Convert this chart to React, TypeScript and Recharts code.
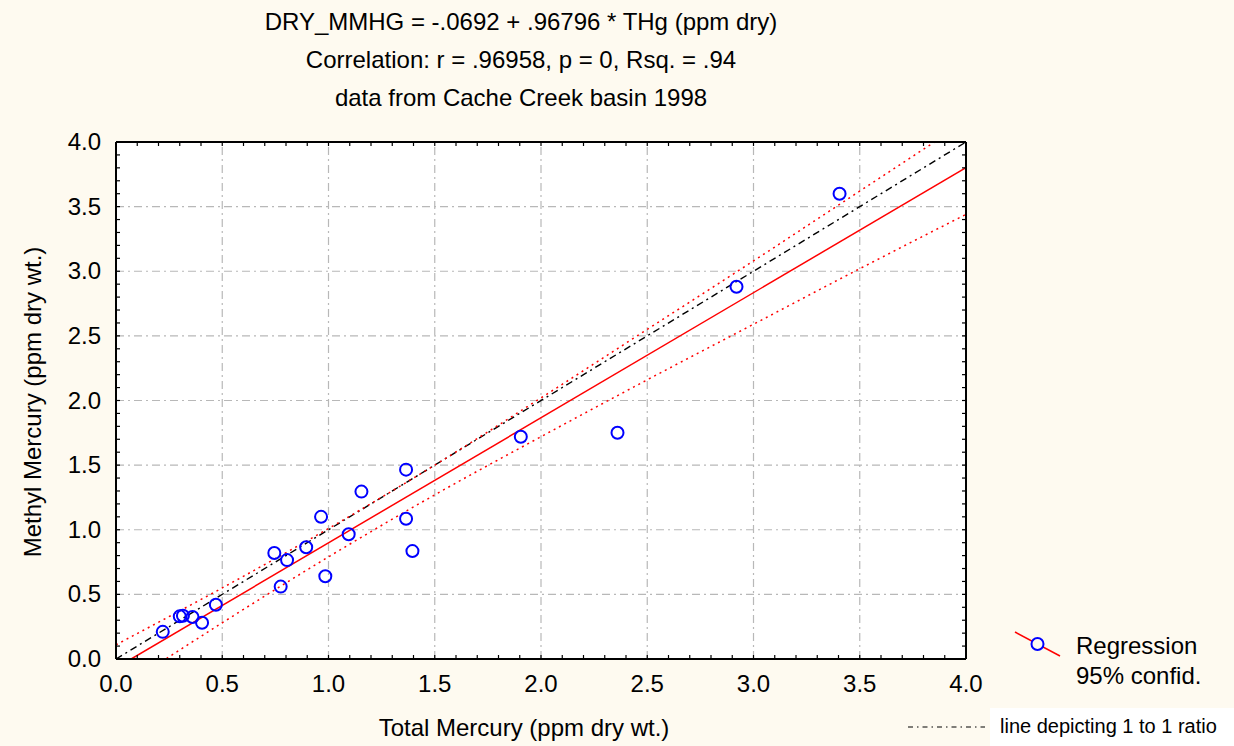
import { ComposedChart, XAxis, YAxis, Scatter, Line, ReferenceLine } from 'recharts';

// measured points: total mercury (x) vs methyl mercury (y), ppm dry wt.
const thg = [0.22, 0.3, 0.315, 0.36, 0.405, 0.47, 0.745, 0.775, 0.805, 0.895, 0.965, 0.985, 1.095, 1.155, 1.365, 1.365, 1.395, 1.905, 2.36, 2.92, 3.405];
const mmhg = [0.21, 0.33, 0.335, 0.325, 0.28, 0.42, 0.82, 0.56, 0.765, 0.865, 1.1, 0.64, 0.965, 1.295, 1.465, 1.085, 0.835, 1.72, 1.75, 2.88, 3.6];

// regression line end points and 95% confidence band
const regX = [0.0715, 4.0];
const regY = [0.0, 3.802];
const bandX = [0, 0.5, 1.0, 1.5, 2.0, 2.5, 3.0, 3.5, 4.0];
const bandUpper = [0.11, 0.55, 1.01, 1.5, 2.02, 2.55, 3.08, 3.62, 4.16];
const bandLower = [-0.25, 0.28, 0.79, 1.27, 1.72, 2.16, 2.59, 3.02, 3.44];
const oneToOneX = [0, 4];
const oneToOneY = [0, 4];

const majorLabels = ['0.0', '0.5', '1.0', '1.5', '2.0', '2.5', '3.0', '3.5', '4.0'];
const gridValues = [0.5, 1.0, 1.5, 2.0, 2.5, 3.0, 3.5];

const points = thg.map((x, i) => ({ x, y: mmhg[i] }));
const regData = regX.map((x, i) => ({ x, y: regY[i] }));
const upperData = bandX.map((x, i) => ({ x, y: bandUpper[i] }));
const lowerData = bandX.map((x, i) => ({ x, y: bandLower[i] }));
const diagData = oneToOneX.map((x, i) => ({ x, y: oneToOneY[i] }));

// minor ticks every 0.1
const ticks = Array.from({ length: 41 }, (_, i) => i / 10);

const FONT = '"Liberation Sans", Arial, sans-serif';
const BG = '#fefaf0';
const TL = 4;

function label(v: number) {
  const i = Math.round(v * 10);
  return i % 5 === 0 ? majorLabels[i / 5] : null;
}

function BottomTick(p: any) {
  const { x, payload } = p;
  const t = label(payload.value);
  return (
    <g>
      <line x1={x} y1={659} x2={x} y2={659 - TL} stroke="#000" strokeWidth={1.2} />
      {t && <text x={x} y={659 + 33} textAnchor="middle" fontSize={24} fontFamily={FONT} fill="#000">{t}</text>}
    </g>
  );
}
function TopTick(p: any) {
  const { x } = p;
  return <line x1={x} y1={142} x2={x} y2={142 + TL} stroke="#000" strokeWidth={1.2} />;
}
function LeftTick(p: any) {
  const { y, payload } = p;
  const t = label(payload.value);
  return (
    <g>
      <line x1={116} y1={y} x2={116 + TL} y2={y} stroke="#000" strokeWidth={1.2} />
      {t && <text x={101} y={y + 8} textAnchor="end" fontSize={24} fontFamily={FONT} fill="#000">{t}</text>}
    </g>
  );
}
function RightTick(p: any) {
  const { y } = p;
  return <line x1={966} y1={y} x2={966 - TL} y2={y} stroke="#000" strokeWidth={1.2} />;
}

const Dot = (p: any) => <circle cx={p.cx} cy={p.cy} r={6} fill="none" stroke="#0000ff" strokeWidth={2} />;

const txt: React.CSSProperties = { position: 'absolute', fontFamily: FONT, color: '#000', whiteSpace: 'nowrap' };
const axisLine = { stroke: '#000', strokeWidth: 2 };

export default function App() {
  return (
    <div style={{ position: 'absolute', left: 0, top: 0, width: 1234, height: 746, background: BG, overflow: 'hidden' }}>
      <div style={{ position: 'absolute', left: 116, top: 142, width: 850, height: 517, background: '#fff' }} />
      <div style={{ position: 'absolute', left: 0, top: 0 }}>
        <ComposedChart width={1234} height={746} margin={{ top: 141, right: 267, bottom: 86, left: 115 }}>
          <XAxis xAxisId="b" type="number" dataKey="x" domain={[0, 4]} ticks={ticks} interval={0} allowDataOverflow
            height={1} tickSize={0} tickMargin={0} tickLine={false} tick={<BottomTick />} axisLine={axisLine} />
          <XAxis xAxisId="t" orientation="top" type="number" dataKey="x" domain={[0, 4]} ticks={ticks} interval={0} allowDataOverflow
            height={1} tickSize={0} tickMargin={0} tickLine={false} tick={<TopTick />} axisLine={axisLine} />
          <YAxis yAxisId="l" type="number" dataKey="y" domain={[0, 4]} ticks={ticks} interval={0} allowDataOverflow
            width={1} tickSize={0} tickMargin={0} tickLine={false} tick={<LeftTick />} axisLine={axisLine} />
          <YAxis yAxisId="r" orientation="right" type="number" dataKey="y" domain={[0, 4]} ticks={ticks} interval={0} allowDataOverflow
            width={1} tickSize={0} tickMargin={0} tickLine={false} tick={<RightTick />} axisLine={axisLine} />
          {gridValues.map((v) => (
            <ReferenceLine key={'v' + v} xAxisId="b" yAxisId="l" x={v} stroke="#b8b8b8" strokeWidth={1.2} strokeDasharray="8 4 2 4" />
          ))}
          {gridValues.map((v) => (
            <ReferenceLine key={'h' + v} xAxisId="b" yAxisId="l" y={v} stroke="#b8b8b8" strokeWidth={1.2} strokeDasharray="8 4 2 4" />
          ))}
          <Line xAxisId="b" yAxisId="l" data={diagData} dataKey="y" type="linear" stroke="#000" strokeWidth={1.4}
            strokeDasharray="7 4 2 4" dot={false} activeDot={false} isAnimationActive={false} />
          <Line xAxisId="b" yAxisId="l" data={upperData} dataKey="y" type="monotone" stroke="#ff0000" strokeWidth={1.5}
            strokeDasharray="2 4" dot={false} activeDot={false} isAnimationActive={false} />
          <Line xAxisId="b" yAxisId="l" data={lowerData} dataKey="y" type="monotone" stroke="#ff0000" strokeWidth={1.5}
            strokeDasharray="2 4" dot={false} activeDot={false} isAnimationActive={false} />
          <Line xAxisId="b" yAxisId="l" data={regData} dataKey="y" type="linear" stroke="#ff0000" strokeWidth={1.5}
            dot={false} activeDot={false} isAnimationActive={false} />
          <Scatter xAxisId="b" yAxisId="l" data={points} dataKey="y" shape={<Dot />} isAnimationActive={false} />
        </ComposedChart>
      </div>

      <div style={{ ...txt, left: 0, width: 1042, top: 8, fontSize: 24, textAlign: 'center' }}>DRY_MMHG = -.0692 + .96796 * THg (ppm dry)</div>
      <div style={{ ...txt, left: 0, width: 1042, top: 46, fontSize: 24, textAlign: 'center' }}>Correlation: r = .96958, p = 0, Rsq. = .94</div>
      <div style={{ ...txt, left: 0, width: 1042, top: 84, fontSize: 24, textAlign: 'center' }}>data from Cache Creek basin 1998</div>

      <div style={{ ...txt, left: 0, width: 1048, top: 714, fontSize: 24, textAlign: 'center' }}>Total Mercury (ppm dry wt.)</div>
      <div style={{ ...txt, left: 33, top: 402, fontSize: 24, transform: 'translate(-50%, -50%) rotate(-90deg)' }}>Methyl Mercury (ppm dry wt.)</div>

      <svg style={{ position: 'absolute', left: 1010, top: 628 }} width={56} height={34}>
        <line x1={5} y1={4} x2={50} y2={28} stroke="#ff0000" strokeWidth={1.5} />
        <circle cx={27.5} cy={16} r={6} fill={BG} stroke="#0000ff" strokeWidth={2} />
      </svg>
      <div style={{ ...txt, left: 1076, top: 632, fontSize: 24 }}>Regression</div>
      <div style={{ ...txt, left: 1076, top: 662, fontSize: 24 }}>95% confid.</div>

      <div style={{ position: 'absolute', left: 990, top: 708, width: 244, height: 38, background: '#fff' }} />
      <svg style={{ position: 'absolute', left: 905, top: 722 }} width={85} height={10}>
        <line x1={3} y1={5} x2={80} y2={5} stroke="#000" strokeWidth={1} strokeDasharray="5 4 1.5 4" />
      </svg>
      <div style={{ ...txt, left: 1000, top: 715, fontSize: 20 }}>line depicting 1 to 1 ratio</div>
    </div>
  );
}
